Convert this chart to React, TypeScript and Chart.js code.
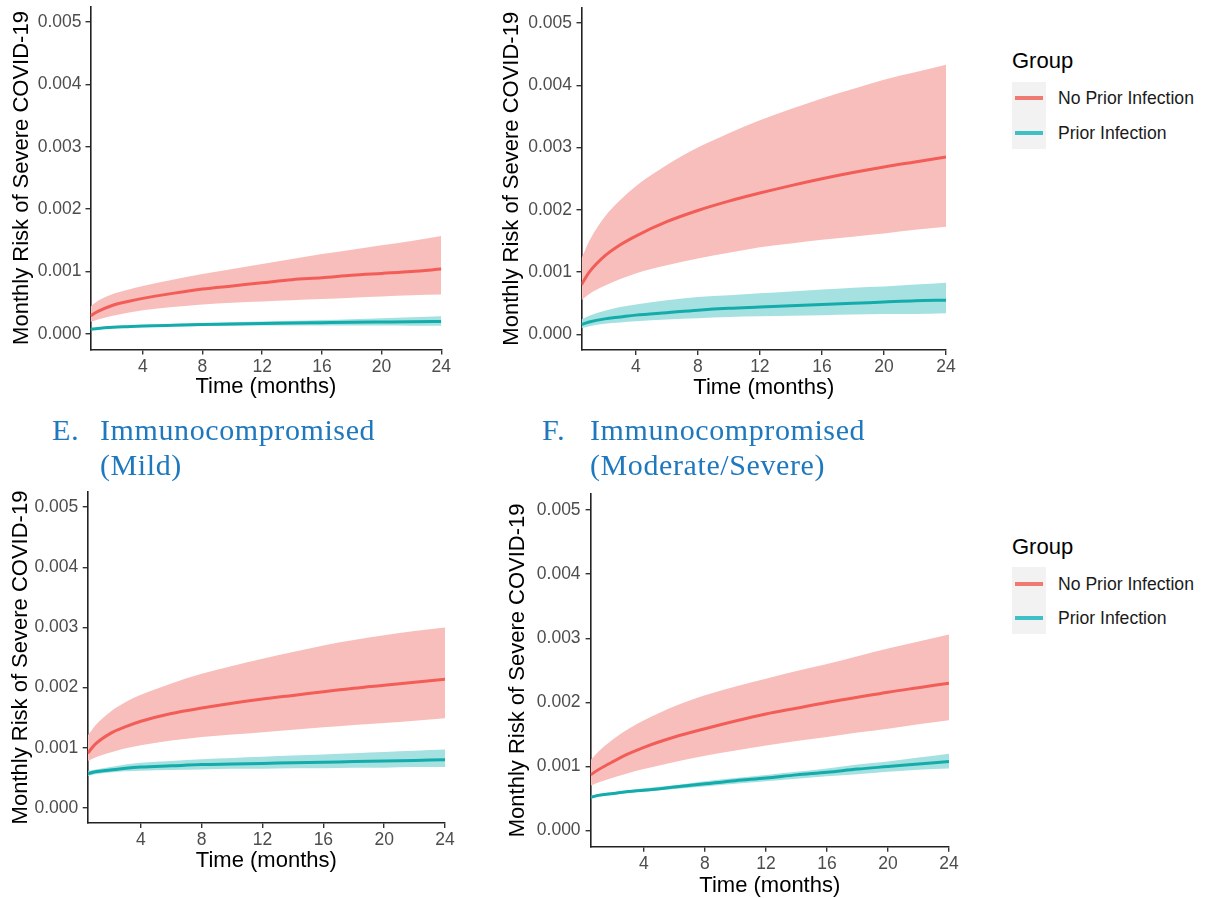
import React, { useEffect, useRef } from "react";
import { Chart, registerables } from "chart.js";

Chart.register(...registerables);

// ---------- data ----------
const months = [0.5, 1, 2, 3, 4, 6, 8, 10, 12, 14, 16, 18, 20, 22, 24];
const xTicks = [4, 8, 12, 16, 20, 24];
const yTicks = [0, 0.001, 0.002, 0.003, 0.004, 0.005];
const groupNames = ["No Prior Infection", "Prior Infection"];
const legendTitle = "Group";
const yTitle = "Monthly Risk of Severe COVID-19";
const xTitle = "Time (months)";

// Panel A (top-left)
const aRed = [0.00029, 0.00036, 0.00046, 0.00052, 0.00057, 0.00065, 0.00072, 0.00077, 0.00082, 0.00087, 0.0009, 0.00094, 0.00097, 0.001, 0.00104];
const aRedHi = [0.00044, 0.00053, 0.00064, 0.00071, 0.00077, 0.00087, 0.00096, 0.00104, 0.00112, 0.0012, 0.00128, 0.00135, 0.00142, 0.00149, 0.00157];
const aRedLo = [0.00019, 0.00023, 0.00029, 0.00034, 0.00038, 0.00043, 0.00047, 0.0005, 0.00052, 0.00054, 0.00056, 0.00058, 0.0006, 0.00062, 0.00063];
const aTeal = [0.000075, 0.000088, 0.000105, 0.000116, 0.000126, 0.000139, 0.00015, 0.000159, 0.000167, 0.000174, 0.00018, 0.000186, 0.000191, 0.000196, 0.0002];
const aTealHi = [0.00009, 0.000103, 0.000121, 0.000133, 0.000143, 0.000159, 0.000173, 0.000186, 0.000198, 0.00021, 0.000222, 0.000235, 0.00025, 0.000266, 0.000285];
const aTealLo = [0.000061, 0.000074, 0.00009, 0.0001, 0.000108, 0.000118, 0.000126, 0.000131, 0.000134, 0.000136, 0.000136, 0.000135, 0.000134, 0.000132, 0.00013];

// Panel B (top-right)
const bRed = [0.0008, 0.001, 0.00126, 0.00144, 0.00158, 0.00181, 0.00199, 0.00214, 0.00227, 0.00239, 0.0025, 0.0026, 0.00269, 0.00277, 0.00285];
const bRedHi = [0.00122, 0.0015, 0.00189, 0.00216, 0.00238, 0.00272, 0.003, 0.00323, 0.00344, 0.00362, 0.00379, 0.00394, 0.00409, 0.00421, 0.00433];
const bRedLo = [0.00055, 0.00065, 0.00078, 0.00089, 0.00098, 0.00111, 0.00122, 0.00131, 0.0014, 0.00146, 0.00152, 0.00157, 0.00162, 0.00168, 0.00173];
const bTeal = [0.00016, 0.0002, 0.00025, 0.00028, 0.00031, 0.00035, 0.00039, 0.00042, 0.00044, 0.00046, 0.00048, 0.0005, 0.00052, 0.00054, 0.00055];
const bTealHi = [0.00024, 0.0003, 0.00038, 0.00044, 0.00048, 0.00055, 0.0006, 0.00063, 0.00066, 0.00069, 0.00072, 0.00075, 0.00077, 0.0008, 0.00083];
const bTealLo = [0.0001, 0.00013, 0.00017, 0.00019, 0.00021, 0.00024, 0.00026, 0.00028, 0.00029, 0.0003, 0.00031, 0.00032, 0.00033, 0.00033, 0.00034];

// Panel C: E. Immunocompromised (Mild)
const cRed = [0.00091, 0.00106, 0.00124, 0.00135, 0.00144, 0.00157, 0.00166, 0.00174, 0.00181, 0.00187, 0.00193, 0.00199, 0.00204, 0.00209, 0.00214];
const cRedHi = [0.0012, 0.00137, 0.0016, 0.00176, 0.00188, 0.00207, 0.00223, 0.00236, 0.00248, 0.00259, 0.0027, 0.00279, 0.00287, 0.00294, 0.003];
const cRedLo = [0.00078, 0.00084, 0.00092, 0.00099, 0.00104, 0.00112, 0.00118, 0.00122, 0.00126, 0.0013, 0.00134, 0.00138, 0.00141, 0.00145, 0.00149];
const cTeal = [0.00057, 0.0006, 0.00063, 0.00066, 0.00068, 0.0007, 0.00072, 0.00073, 0.00074, 0.00075, 0.00076, 0.00077, 0.00078, 0.00079, 0.0008];
const cTealHi = [0.00061, 0.00064, 0.00068, 0.00072, 0.00075, 0.00078, 0.00081, 0.00083, 0.00085, 0.00087, 0.00089, 0.00091, 0.00093, 0.00095, 0.00097];
const cTealLo = [0.00053, 0.00056, 0.00059, 0.00061, 0.00062, 0.00063, 0.00064, 0.00065, 0.00065, 0.00066, 0.00066, 0.00067, 0.00067, 0.00068, 0.00068];

// Panel D: F. Immunocompromised (Moderate/Severe)
const dRed = [0.00087, 0.00095, 0.00108, 0.0012, 0.0013, 0.00146, 0.00159, 0.00171, 0.00182, 0.00191, 0.002, 0.00208, 0.00216, 0.00223, 0.0023];
const dRedHi = [0.0011, 0.00123, 0.00143, 0.00159, 0.00172, 0.00194, 0.00211, 0.00225, 0.00237, 0.00249, 0.0026, 0.00272, 0.00284, 0.00295, 0.00306];
const dRedLo = [0.0007, 0.00075, 0.00083, 0.0009, 0.00096, 0.00107, 0.00117, 0.00125, 0.00133, 0.0014, 0.00146, 0.00153, 0.00159, 0.00166, 0.00172];
const dTeal = [0.00052, 0.00055, 0.00058, 0.00061, 0.00063, 0.00068, 0.00073, 0.00078, 0.00082, 0.00087, 0.00091, 0.00096, 0.001, 0.00104, 0.00108];
const dTealHi = [0.00054, 0.00057, 0.0006, 0.00063, 0.00066, 0.00071, 0.00077, 0.00082, 0.00087, 0.00092, 0.00097, 0.00103, 0.00108, 0.00114, 0.0012];
const dTealLo = [0.0005, 0.00053, 0.00056, 0.00059, 0.00061, 0.00065, 0.00069, 0.00073, 0.00077, 0.00081, 0.00085, 0.00088, 0.00092, 0.00095, 0.00097];

// ---------- styles ----------
const RED_LINE = "#F25D57";
const TEAL_LINE = "#14ABAB";
const RED_FILL = "#F8BEBC";
const TEAL_FILL = "#A6E1E1";
const RED_KEY = "#F07A72";
const TEAL_KEY = "#3FC0C6";
const SANS = "'Liberation Sans', Arial, sans-serif";
const SERIF = "'Liberation Serif', 'Times New Roman', serif";
const HEAD_BLUE = "#1E78BE";

type PanelSpec = {
  left: number; top: number; w: number; h: number;
  yW: number; padTop: number; padRight: number; xH: number;
  yTitlePad: number; xTitlePad: number; yTickPad: number;
  red: number[]; redHi: number[]; redLo: number[];
  teal: number[]; tealHi: number[]; tealLo: number[];
};

const panels: PanelSpec[] = [
  { left: 0, top: 0, w: 470, h: 402, yW: 90.5, padTop: 6.5, padRight: 28.7, xH: 52.5, yTitlePad: 8.3, xTitlePad: 1.5, yTickPad: 4,
    red: aRed, redHi: aRedHi, redLo: aRedLo, teal: aTeal, tealHi: aTealHi, tealLo: aTealLo },
  { left: 490, top: 0, w: 480, h: 402, yW: 91.5, padTop: 7.5, padRight: 24, xH: 52, yTitlePad: 8.8, xTitlePad: 0.8, yTickPad: 4.5,
    red: bRed, redHi: bRedHi, redLo: bRedLo, teal: bTeal, tealHi: bTealHi, tealLo: bTealLo },
  { left: 0, top: 480, w: 470, h: 418, yW: 87.7, padTop: 12, padRight: 25, xH: 75, yTitlePad: 7.8, xTitlePad: 23.5, yTickPad: 4.4,
    red: cRed, redHi: cRedHi, redLo: cRedLo, teal: cTeal, tealHi: cTealHi, tealLo: cTealLo },
  { left: 490, top: 480, w: 480, h: 422, yW: 100.6, padTop: 14, padRight: 21, xH: 55.3, yTitlePad: 14.8, xTitlePad: 2.8, yTickPad: 5,
    red: dRed, redHi: dRedHi, redLo: dRedLo, teal: dTeal, tealHi: dTealHi, tealLo: dTealLo },
];

function Panel({ spec }: { spec: PanelSpec }) {
  const ref = useRef<HTMLCanvasElement>(null);
  useEffect(() => {
    const canvas = ref.current;
    if (!canvas) return;
    const pts = (arr: number[]) => months.map((m, i) => ({ x: m, y: arr[i] }));
    const band = (arr: number[], color: string, fillTarget: number | false, order: number) => ({
      label: "band",
      data: pts(arr),
      borderColor: "rgba(0,0,0,0)",
      borderWidth: 0,
      backgroundColor: color,
      fill: fillTarget === false ? false : { target: fillTarget },
      pointRadius: 0,
      order,
    });
    const chart = new Chart(canvas, {
      type: "line",
      data: {
        datasets: [
          band(spec.redHi, RED_FILL, 1, 5),
          band(spec.redLo, RED_FILL, false, 5),
          band(spec.tealHi, TEAL_FILL, 3, 4),
          band(spec.tealLo, TEAL_FILL, false, 4),
          { label: groupNames[0], data: pts(spec.red), borderColor: RED_LINE, borderWidth: 3, pointRadius: 0, fill: false, order: 1 },
          { label: groupNames[1], data: pts(spec.teal), borderColor: TEAL_LINE, borderWidth: 3, pointRadius: 0, fill: false, order: 0 },
        ] as any,
      },
      options: {
        animation: false,
        responsive: false,
        maintainAspectRatio: false,
        devicePixelRatio: 1,
        layout: { padding: { left: 0, top: spec.padTop, right: spec.padRight, bottom: 0 } },
        elements: { line: { cubicInterpolationMode: "monotone" }, point: { radius: 0 } },
        plugins: { legend: { display: false }, tooltip: { enabled: false }, filler: { propagate: false } },
        scales: {
          x: {
            type: "linear",
            min: 0.5,
            max: 24,
            afterBuildTicks: (s: any) => { s.ticks = xTicks.map((v) => ({ value: v })); },
            afterFit: (s: any) => { s.height = spec.xH; s.paddingLeft = 0; s.paddingRight = 0; },
            ticks: { color: "#4D4D4D", font: { size: 17.5, family: SANS }, padding: 2, maxRotation: 0, autoSkip: false, callback: (v: any) => String(v) },
            grid: { display: true, drawOnChartArea: false, drawTicks: true, tickLength: 5, color: "#333", lineWidth: 1.4 },
            border: { display: true, color: "#222", width: 1.6 },
            title: { display: true, text: xTitle, color: "#000", font: { size: 22, family: SANS, lineHeight: 1.2 }, padding: { top: 0, bottom: spec.xTitlePad } },
          },
          y: {
            type: "linear",
            min: -0.00025,
            max: 0.00525,
            afterBuildTicks: (s: any) => { s.ticks = yTicks.map((v) => ({ value: v })); },
            afterFit: (s: any) => { s.width = spec.yW; s.paddingTop = 0; s.paddingBottom = 0; },
            ticks: { color: "#4D4D4D", font: { size: 17.5, family: SANS }, padding: spec.yTickPad, autoSkip: false, callback: (v: any) => Number(v).toFixed(3) },
            grid: { display: true, drawOnChartArea: false, drawTicks: true, tickLength: 5, color: "#333", lineWidth: 1.4 },
            border: { display: true, color: "#222", width: 1.6 },
            title: { display: true, text: yTitle, color: "#000", font: { size: 22, family: SANS, lineHeight: 1.2 }, padding: { top: spec.yTitlePad, bottom: 0 } },
          },
        },
      } as any,
    });
    return () => chart.destroy();
  }, [spec]);
  return (
    <canvas
      ref={ref}
      width={spec.w}
      height={spec.h}
      style={{ position: "absolute", left: spec.left, top: spec.top, width: spec.w, height: spec.h }}
    />
  );
}

function Legend({ top }: { top: number }) {
  const textStyle: React.CSSProperties = { position: "absolute", left: 1058, fontFamily: SANS, fontSize: 17.6, lineHeight: "20px", color: "#1A1A1A", whiteSpace: "nowrap" };
  return (
    <>
      <div style={{ position: "absolute", left: 1012, top: top - 50.5, fontFamily: SANS, fontSize: 22, lineHeight: "26px", color: "#000" }}>{legendTitle}</div>
      <div style={{ position: "absolute", left: 1012, top: top - 16.8, width: 34, height: 67, background: "#F2F2F2" }} />
      <div style={{ position: "absolute", left: 1015, top: top - 2, width: 28, height: 4, background: RED_KEY }} />
      <div style={{ position: "absolute", left: 1015, top: top + 32.4, width: 28, height: 4, background: TEAL_KEY }} />
      <div style={{ ...textStyle, top: top - 10 }}>{groupNames[0]}</div>
      <div style={{ ...textStyle, top: top + 24.4 }}>{groupNames[1]}</div>
    </>
  );
}

function Heading({ left, labelLeft, top, letter, line1, line2 }: { left: number; labelLeft: number; top: number; letter: string; line1: string; line2: string }) {
  const st: React.CSSProperties = { position: "absolute", fontFamily: SERIF, fontSize: 30, lineHeight: "30px", letterSpacing: "0.6px", color: HEAD_BLUE, whiteSpace: "nowrap" };
  return (
    <>
      <div style={{ ...st, left, top }}>{letter}</div>
      <div style={{ ...st, left: labelLeft, top }}>{line1}</div>
      <div style={{ ...st, left: labelLeft, top: top + 35 }}>{line2}</div>
    </>
  );
}

export default function App() {
  return (
    <div style={{ position: "absolute", left: 0, top: 0, width: 1211, height: 898, overflow: "hidden", background: "#fff" }}>
      {panels.map((p, i) => (
        <Panel key={i} spec={p} />
      ))}
      <Legend top={98.3} />
      <Legend top={584} />
      <Heading left={52} labelLeft={100} top={415} letter="E." line1="Immunocompromised" line2="(Mild)" />
      <Heading left={542} labelLeft={590} top={415} letter="F." line1="Immunocompromised" line2="(Moderate/Severe)" />
    </div>
  );
}
